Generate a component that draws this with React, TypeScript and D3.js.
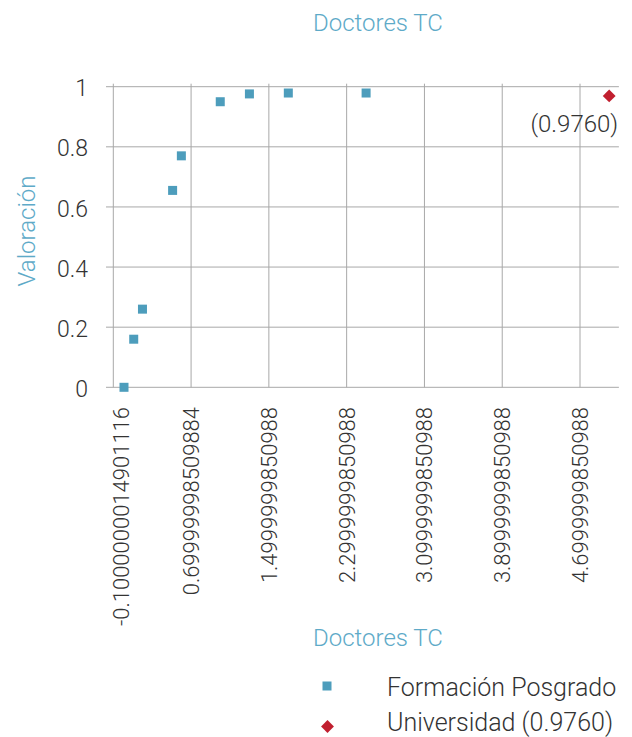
import React from "react";
import * as d3 from "d3";

// Formación Posgrado points
const posgradoX = [0.01, 0.11, 0.2, 0.51, 0.6, 1.0, 1.3, 1.7, 2.5];
const posgradoY = [0, 0.16, 0.26, 0.655, 0.77, 0.95, 0.976, 0.979, 0.979];

// Universidad reference point
const universidadX = [5.0];
const universidadY = [0.976];
const universidadLabel = "(0.9760)";

const xTicks = [-0.1, 0.7, 1.5, 2.3, 3.1, 3.9, 4.7];
const xTickLabels = [
  "-0.1000000014901116",
  "0.69999998509884",
  "1.4999999850988",
  "2.2999999850988",
  "3.0999999850988",
  "3.8999999850988",
  "4.6999999850988",
];
const yTicks = [0, 0.2, 0.4, 0.6, 0.8, 1];
const yTickLabels = ["0", "0.2", "0.4", "0.6", "0.8", "1"];

const seriesNames = ["Formación Posgrado", "Universidad (0.9760)"];

const W = 632;
const H = 737;
const FONT = "Roboto, 'DejaVu Sans', sans-serif";
const BLUE = "#4d9dbc";
const TITLE_BLUE = "#5eaac8";
const RED = "#c11f2f";
const GRID = "#a8a8a8";
const TEXT = "#333333";

export default function App() {
  const x = d3.scaleLinear().domain([-0.1, 5.1]).range([113.3, 618.9]);
  const y = d3.scaleLinear().domain([0, 1]).range([387.3, 86.7]);

  // diamond ~12.5px across
  const diamond = d3.symbol().type(d3.symbolDiamond2).size(105)();
  const square = 9;

  return (
    <svg
      width={W}
      height={H}
      style={{ position: "absolute", left: 0, top: 0, background: "#fff" }}
      fontFamily={FONT}
    >
      {/* title */}
      <text x={378} y={31} textAnchor="middle" fontSize={24} fontWeight={300} fill={TITLE_BLUE}>
        Doctores TC
      </text>

      {/* horizontal grid */}
      {yTicks.map((t) => (
        <line key={"h" + t} x1={106} x2={x(5.1)} y1={y(t)} y2={y(t)} stroke={GRID} strokeWidth={1} />
      ))}
      {/* vertical grid */}
      {xTicks.map((t) => (
        <line key={"v" + t} x1={x(t)} x2={x(t)} y1={y(1.01)} y2={y(0)} stroke={GRID} strokeWidth={1} />
      ))}

      {/* y tick labels */}
      {yTicks.map((t, i) => (
        <text
          key={"yl" + t}
          x={88}
          y={y(t)}
          dy="0.42em"
          textAnchor="end"
          fontSize={23}
          fontWeight={300}
          fill={TEXT}
        >
          {yTickLabels[i]}
        </text>
      ))}

      {/* x tick labels */}
      {xTicks.map((t, i) => {
        const cx = x(t) + (i === 0 ? 8 : 0);
        return (
          <text
            key={"xl" + t}
            transform={`translate(${cx},407) rotate(-90)`}
            dy="0.36em"
            textAnchor="end"
            fontSize={22}
            fontWeight={300}
            fill={TEXT}
          >
            {xTickLabels[i]}
          </text>
        );
      })}

      {/* y axis title */}
      <text
        transform={`translate(35,${y(0.52)}) rotate(-90)`}
        textAnchor="middle"
        fontSize={24}
        fontWeight={300}
        fill={TITLE_BLUE}
      >
        Valoración
      </text>

      {/* series: Formación Posgrado */}
      {posgradoX.map((v, i) => (
        <rect
          key={"p" + i}
          x={x(v) - square / 2}
          y={y(posgradoY[i]) - square / 2}
          width={square}
          height={square}
          fill={BLUE}
        />
      ))}

      {/* series: Universidad */}
      {universidadX.map((v, i) => (
        <g key={"u" + i}>
          <path d={diamond ?? ""} transform={`translate(${x(v)},${y(universidadY[i]) + 2})`} fill={RED} />
          <text
            x={x(v) + 9}
            y={y(universidadY[i]) + 38}
            textAnchor="end"
            fontSize={24}
            fontWeight={300}
            fill={TEXT}
          >
            {universidadLabel}
          </text>
        </g>
      ))}

      {/* x axis title */}
      <text x={378} y={646} textAnchor="middle" fontSize={24} fontWeight={300} fill={TITLE_BLUE}>
        Doctores TC
      </text>

      {/* legend */}
      <rect x={327 - square / 2} y={686 - square / 2} width={square} height={square} fill={BLUE} />
      <text x={387} y={696} fontSize={25} fontWeight={300} fill={TEXT}>
        {seriesNames[0]}
      </text>
      <path d={diamond ?? ""} transform="translate(327.5,726.5)" fill={RED} />
      <text x={387} y={731} fontSize={25} fontWeight={300} fill={TEXT}>
        {seriesNames[1]}
      </text>
    </svg>
  );
}
